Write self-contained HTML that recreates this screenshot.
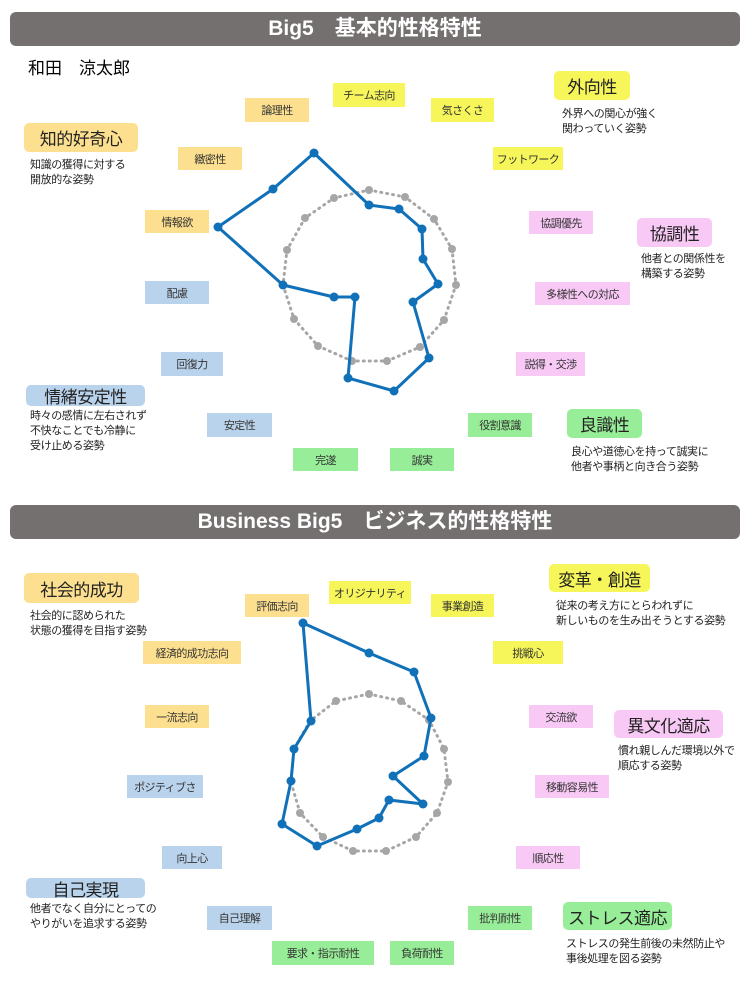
<!DOCTYPE html><html><head><meta charset="utf-8"><style>
body{margin:0;width:750px;height:1000px;background:#fff;position:relative;font-family:"Liberation Sans","Noto Sans CJK JP",sans-serif;overflow:hidden}
.bar{position:absolute;left:10px;width:730px;height:34px;background:#757070;border-radius:6px;color:#fff;font-size:21px;font-weight:bold;text-align:center;line-height:34px}
.l{position:absolute;font-size:11px;color:#333;display:flex;align-items:center;justify-content:center;letter-spacing:-0.6px;white-space:nowrap}
.h{position:absolute;font-size:17px;color:#222;display:flex;align-items:center;justify-content:center;border-radius:5px;letter-spacing:-0.5px}
.d{position:absolute;font-size:11px;color:#222;line-height:15px;white-space:nowrap;letter-spacing:-0.4px}
.o{background:#fde08f}.y{background:#f6f65a}.p{background:#f9c9f6}.b{background:#bad3ec}.g{background:#98ee98}
svg{position:absolute;left:0;top:0}
</style></head><body>
<div class="bar" style="top:12px">Big5　基本的性格特性</div>
<div class="bar" style="top:505px">Business Big5　ビジネス的性格特性</div>
<div style="position:absolute;left:28px;top:54px;font-size:17px">和田　涼太郎</div>

<div class="l o" style="left:245px;top:98px;width:64px;height:24px">論理性</div>
<div class="l y" style="left:333px;top:83px;width:72px;height:24px">チーム志向</div>
<div class="l y" style="left:431px;top:98px;width:63px;height:24px">気さくさ</div>
<div class="l o" style="left:178px;top:147px;width:64px;height:23px">緻密性</div>
<div class="l y" style="left:493px;top:147px;width:70px;height:23px">フットワーク</div>
<div class="l o" style="left:145px;top:210px;width:64px;height:23px">情報欲</div>
<div class="l p" style="left:529px;top:211px;width:64px;height:23px">協調優先</div>
<div class="l b" style="left:145px;top:281px;width:64px;height:23px">配慮</div>
<div class="l p" style="left:535px;top:282px;width:95px;height:23px">多様性への対応</div>
<div class="l b" style="left:161px;top:352px;width:62px;height:24px">回復力</div>
<div class="l p" style="left:516px;top:352px;width:69px;height:24px">説得・交渉</div>
<div class="l b" style="left:207px;top:413px;width:65px;height:24px">安定性</div>
<div class="l g" style="left:468px;top:413px;width:64px;height:24px">役割意識</div>
<div class="l g" style="left:293px;top:448px;width:65px;height:23px">完遂</div>
<div class="l g" style="left:390px;top:448px;width:64px;height:23px">誠実</div>

<div class="h o" style="left:24px;top:123px;width:114px;height:29px">知的好奇心</div>
<div class="d" style="left:30px;top:158px">知識の獲得に対する<br>開放的な姿勢</div>
<div class="h y" style="left:554px;top:71px;width:76px;height:29px">外向性</div>
<div class="d" style="left:562px;top:107px">外界への関心が強く<br>関わっていく姿勢</div>
<div class="h p" style="left:637px;top:218px;width:75px;height:29px">協調性</div>
<div class="d" style="left:641px;top:252px">他者との関係性を<br>構築する姿勢</div>
<div class="h b" style="left:26px;top:385px;width:119px;height:21px">情緒安定性</div>
<div class="d" style="left:30px;top:409px">時々の感情に左右されず<br>不快なことでも冷静に<br>受け止める姿勢</div>
<div class="h g" style="left:567px;top:409px;width:75px;height:29px">良識性</div>
<div class="d" style="left:571px;top:445px">良心や道徳心を持って誠実に<br>他者や事柄と向き合う姿勢</div>

<div class="h o" style="left:24px;top:573px;width:115px;height:30px">社会的成功</div>
<div class="d" style="left:30px;top:609px">社会的に認められた<br>状態の獲得を目指す姿勢</div>
<div class="h y" style="left:549px;top:564px;width:101px;height:28px">変革・創造</div>
<div class="d" style="left:556px;top:599px">従来の考え方にとらわれずに<br>新しいものを生み出そうとする姿勢</div>
<div class="l o" style="left:245px;top:594px;width:64px;height:23px">評価志向</div>
<div class="l y" style="left:329px;top:581px;width:82px;height:23px">オリジナリティ</div>
<div class="l y" style="left:431px;top:594px;width:63px;height:23px">事業創造</div>
<div class="l o" style="left:143px;top:641px;width:98px;height:23px">経済的成功志向</div>
<div class="l y" style="left:493px;top:641px;width:70px;height:23px">挑戦心</div>
<div class="l o" style="left:145px;top:705px;width:64px;height:23px">一流志向</div>
<div class="l p" style="left:529px;top:705px;width:64px;height:23px">交流欲</div>
<div class="h p" style="left:614px;top:710px;width:109px;height:28px">異文化適応</div>
<div class="d" style="left:618px;top:744px">慣れ親しんだ環境以外で<br>順応する姿勢</div>
<div class="l b" style="left:127px;top:775px;width:76px;height:23px">ポジティブさ</div>
<div class="l p" style="left:535px;top:775px;width:74px;height:23px">移動容易性</div>
<div class="l b" style="left:162px;top:846px;width:60px;height:23px">向上心</div>
<div class="l p" style="left:516px;top:846px;width:64px;height:23px">順応性</div>
<div class="h b" style="left:26px;top:878px;width:119px;height:20px">自己実現</div>
<div class="d" style="left:30px;top:902px">他者でなく自分にとっての<br>やりがいを追求する姿勢</div>
<div class="l b" style="left:207px;top:906px;width:65px;height:24px">自己理解</div>
<div class="l g" style="left:468px;top:906px;width:64px;height:24px">批判耐性</div>
<div class="h g" style="left:563px;top:902px;width:109px;height:28px">ストレス適応</div>
<div class="d" style="left:566px;top:937px">ストレスの発生前後の未然防止や<br>事後処理を図る姿勢</div>
<div class="l g" style="left:272px;top:941px;width:102px;height:24px">要求・指示耐性</div>
<div class="l g" style="left:390px;top:941px;width:64px;height:24px">負荷耐性</div>

<svg width="750" height="1000">
<g fill="none" stroke="#a6a6a6" stroke-width="3" stroke-dasharray="1 5" stroke-linecap="round">
<polygon points="369,190 405,197 434,219 452,249 456,285 444,320 420,347 387,361 352,361 318,346 294,319 283,285 287,250 305,218 334,198"/>
<polygon points="369,694 401,701 429,720 444,749 448,782 437,813 416,837 386,851 353,851 323,837 300,813 291,782 294,749 310,721 336,701"/>
</g>
<g fill="#a6a6a6">
<circle cx="369" cy="190" r="4"/><circle cx="405" cy="197" r="4"/><circle cx="434" cy="219" r="4"/><circle cx="452" cy="249" r="4"/><circle cx="456" cy="285" r="4"/><circle cx="444" cy="320" r="4"/><circle cx="420" cy="347" r="4"/><circle cx="387" cy="361" r="4"/><circle cx="352" cy="361" r="4"/><circle cx="318" cy="346" r="4"/><circle cx="294" cy="319" r="4"/><circle cx="287" cy="250" r="4"/><circle cx="305" cy="218" r="4"/><circle cx="334" cy="198" r="4"/>
<circle cx="369" cy="694" r="4"/><circle cx="401" cy="701" r="4"/><circle cx="429" cy="720" r="4"/><circle cx="444" cy="749" r="4"/><circle cx="448" cy="782" r="4"/><circle cx="437" cy="813" r="4"/><circle cx="416" cy="837" r="4"/><circle cx="386" cy="851" r="4"/><circle cx="353" cy="851" r="4"/><circle cx="323" cy="837" r="4"/><circle cx="300" cy="813" r="4"/><circle cx="336" cy="701" r="4"/>
</g>
<g fill="none" stroke="#1070b8" stroke-width="3" stroke-linejoin="round">
<polygon points="314,153 273,189 218,227 283,285 334,297 355,297 348,378 394,391 429,358 413,302 438,284 423,259 422,229 399,209 369,205"/>
<polygon points="303,623 369,653 414,672 431,718 424,756 393,776 423,804 389,800 379,818 357,829 317,846 282,824 291,781 294,749 311,721"/>
</g>
<g fill="#1070b8">
<circle cx="314" cy="153" r="4.5"/><circle cx="273" cy="189" r="4.5"/><circle cx="218" cy="227" r="4.5"/><circle cx="283" cy="285" r="4.5"/><circle cx="334" cy="297" r="4.5"/><circle cx="355" cy="297" r="4.5"/><circle cx="348" cy="378" r="4.5"/><circle cx="394" cy="391" r="4.5"/><circle cx="429" cy="358" r="4.5"/><circle cx="413" cy="302" r="4.5"/><circle cx="438" cy="284" r="4.5"/><circle cx="423" cy="259" r="4.5"/><circle cx="422" cy="229" r="4.5"/><circle cx="399" cy="209" r="4.5"/><circle cx="369" cy="205" r="4.5"/>
<circle cx="303" cy="623" r="4.5"/><circle cx="369" cy="653" r="4.5"/><circle cx="414" cy="672" r="4.5"/><circle cx="431" cy="718" r="4.5"/><circle cx="424" cy="756" r="4.5"/><circle cx="393" cy="776" r="4.5"/><circle cx="423" cy="804" r="4.5"/><circle cx="389" cy="800" r="4.5"/><circle cx="379" cy="818" r="4.5"/><circle cx="357" cy="829" r="4.5"/><circle cx="317" cy="846" r="4.5"/><circle cx="282" cy="824" r="4.5"/><circle cx="291" cy="781" r="4.5"/><circle cx="294" cy="749" r="4.5"/><circle cx="311" cy="721" r="4.5"/>
</g>
</svg>
</body></html>
